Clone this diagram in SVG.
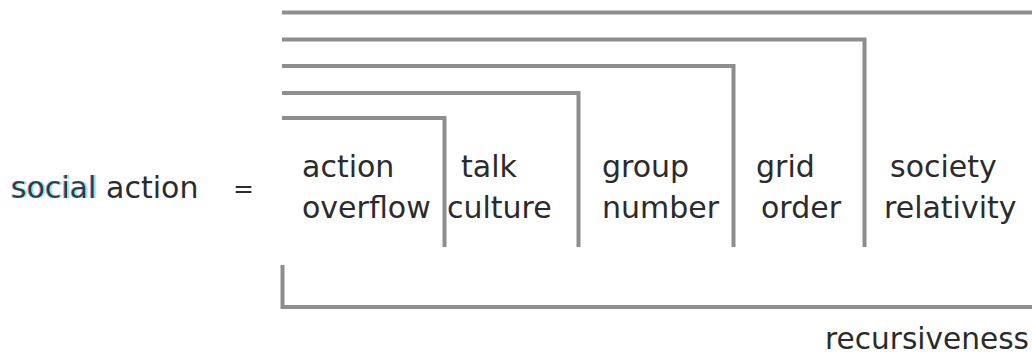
<svg xmlns="http://www.w3.org/2000/svg" width="1032" height="356" viewBox="0 0 1032 356">
<style>
  .t { font-family: "DejaVu Sans", Verdana, sans-serif; font-size: 30px; fill: #2b2b2b; }
  .eq { font-family: "DejaVu Sans", Verdana, sans-serif; font-size: 25px; fill: #2b2b2b; }
  .ln { fill: none; stroke: #8e8e8e; stroke-width: 4; stroke-linejoin: miter; stroke-linecap: butt; }
</style>
<defs>
  <filter id="fringe" x="-5%" y="-20%" width="110%" height="140%">
    <feColorMatrix in="SourceAlpha" type="matrix" values="0 0 0 0 0.9  0 0 0 0 0.15  0 0 0 0 0.2  0 0 0 0.8 0" result="red"/>
    <feOffset in="red" dx="-1.5" dy="0" result="redO"/>
    <feColorMatrix in="SourceAlpha" type="matrix" values="0 0 0 0 0.1  0 0 0 0 0.85  0 0 0 0 0.9  0 0 0 0.8 0" result="cyan"/>
    <feOffset in="cyan" dx="1.5" dy="0" result="cyanO"/>
    <feMerge><feMergeNode in="redO"/><feMergeNode in="cyanO"/><feMergeNode in="SourceGraphic"/></feMerge>
  </filter>
</defs>
<rect width="1032" height="356" fill="#ffffff"/>
<g id="lhs">
  <text class="t" x="11" y="198"><tspan fill="#24404a" filter="url(#fringe)">social</tspan> action</text>
  <text class="eq" x="233" y="197">=</text>
</g>
<g id="connectors">
  <path class="ln" d="M282 12.5 H1032"/>
  <path class="ln" d="M282 39.5 H864.5 V247"/>
  <path class="ln" d="M282 66 H733.5 V247"/>
  <path class="ln" d="M282 93 H578.5 V247"/>
  <path class="ln" d="M282 118 H444.5 V247"/>
  <path class="ln" d="M282.5 265 V307 H1032"/>
</g>
<g id="node-action-overflow">
  <text class="t" x="302" y="177">action</text>
  <text class="t" x="302" y="218">overflow</text>
</g>
<g id="node-talk-culture">
  <text class="t" x="461" y="177">talk</text>
  <text class="t" x="447" y="218">culture</text>
</g>
<g id="node-group-number">
  <text class="t" x="602" y="177">group</text>
  <text class="t" x="602" y="218">number</text>
</g>
<g id="node-grid-order">
  <text class="t" x="756" y="177">grid</text>
  <text class="t" x="761" y="218">order</text>
</g>
<g id="node-society-relativity">
  <text class="t" x="890" y="177">society</text>
  <text class="t" x="884" y="218">relativity</text>
</g>
<g id="node-recursiveness">
  <text class="t" x="825" y="349" textLength="204" lengthAdjust="spacingAndGlyphs">recursiveness</text>
</g>
</svg>
